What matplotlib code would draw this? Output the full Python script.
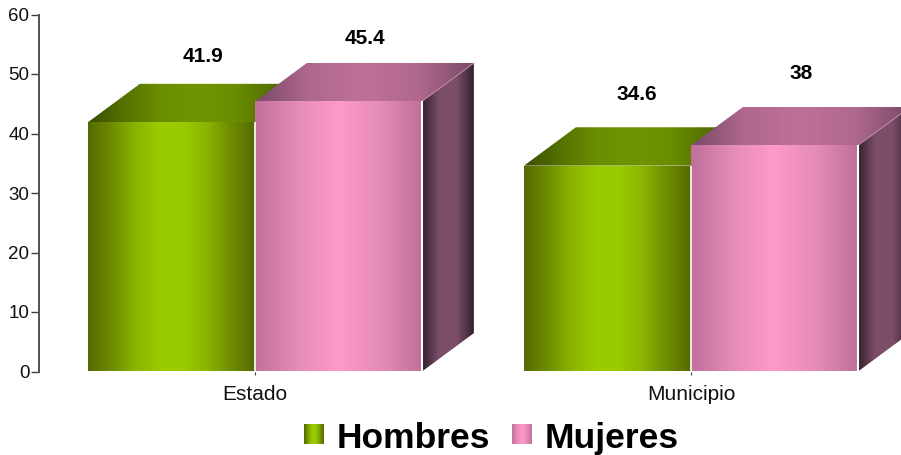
import numpy as np
import matplotlib
matplotlib.use('Agg')
import matplotlib.pyplot as plt
from matplotlib.colors import LinearSegmentedColormap
from matplotlib.patches import Polygon

plt.rcParams['font.family'] = ['Liberation Sans', 'DejaVu Sans']

categories = ['Estado', 'Municipio']
series_names = ['Hombres', 'Mujeres']
hombres = [41.9, 34.6]
mujeres = [45.4, 38]
value_labels = [['41.9', '34.6'], ['45.4', '38']]
y_ticks = [0, 10, 20, 30, 40, 50, 60]

# label offsets from the bar top centre (data units)
label_rise = [[11.1, 12.0], [10.6, 12.1]]
label_shift = [[0.072, 0.067], [0.061, 0.06]]

W, H = 901, 455
bar_w = 0.383
depth_x = 0.119
depth_y = 6.45

green_front = LinearSegmentedColormap.from_list('gf', ['#556b00', '#6f8c00', '#8ab400', '#99cc00', '#99cc00', '#8ab400', '#6f8c00', '#556b00'])
green_top = LinearSegmentedColormap.from_list('gt', ['#3a4e00', '#557200', '#6b8e00', '#709400', '#6b8e00', '#557200', '#3a4e00'])
pink_front = LinearSegmentedColormap.from_list('pf', ['#c0709a', '#e58cb8', '#ff99cc', '#e58cb8', '#c0709a'])
pink_top = LinearSegmentedColormap.from_list('pt', ['#7a4a66', '#b0688f', '#bf7099', '#b0688f', '#7a4a66'])
pink_side = LinearSegmentedColormap.from_list('ps', ['#33202c', '#7c4e69', '#7c4e69', '#33202c'])

fig = plt.figure(figsize=(W / 100, H / 100), dpi=100, facecolor='white')
ax = fig.add_axes([39 / W, 1 - 371.5 / H, (911 - 39) / W, (371.5 - 14.5) / H])
xlim = (-216 / 436, (911 - 39 - 216) / 436)


def shade(cmap, x0, x1, y0, y1, corners, z):
    # horizontal gradient clipped to the face outline
    grad = np.linspace(0, 1, 256).reshape(1, -1)
    im = ax.imshow(grad, cmap=cmap, extent=[x0, x1, y0, y1], aspect='auto',
                   zorder=z, interpolation='bilinear')
    im.set_clip_path(Polygon(corners, closed=True, transform=ax.transData))


def bar3d(left, val, front, top, side, z, neighbour=None):
    right = left + bar_w
    shade(front, left, right, 0, val,
          [(left, 0), (right, 0), (right, val), (left, val)], z)
    shade(top, left, right + depth_x, val, val + depth_y,
          [(left, val), (right, val), (right + depth_x, val + depth_y),
           (left + depth_x, val + depth_y)], z)
    if side is not None:
        shade(side, right, right + depth_x, 0, val + depth_y,
              [(right, 0), (right + depth_x, depth_y),
               (right + depth_x, val + depth_y), (right, val)], z)
        ax.plot([right, right + depth_x], [val, val + depth_y], color='#c08aa8',
                lw=0.7, zorder=z + 0.1)
        ax.plot([right, right], [0, val], color='white', lw=1.5, zorder=z + 0.1,
                solid_capstyle='butt')
        ax.plot([left, left], [0, neighbour], color='white', lw=1.2, zorder=z + 0.1,
                solid_capstyle='butt')


for i in range(len(categories)):
    bar3d(i - bar_w, hombres[i], green_front, green_top, None, 2 + i)
    bar3d(i, mujeres[i], pink_front, pink_top, pink_side, 2.5 + i, hombres[i])
    ax.text(i - bar_w / 2 + label_shift[0][i], hombres[i] + label_rise[0][i], value_labels[0][i],
            ha='center', va='center', fontsize=15, fontweight='bold', color='black', zorder=10)
    ax.text(i + bar_w / 2 + label_shift[1][i], mujeres[i] + label_rise[1][i], value_labels[1][i],
            ha='center', va='center', fontsize=15, fontweight='bold', color='black', zorder=10)

ax.set_xlim(*xlim)
ax.set_ylim(0, 60)
ax.set_yticks(y_ticks)
ax.set_xticks(range(len(categories)))
ax.set_xticklabels(categories)
ax.tick_params(axis='y', length=6, width=1, color='#404040', labelsize=13.5, pad=1, labelcolor='#111111')
ax.tick_params(axis='x', length=2, width=0.8, color='#404040', labelsize=15, pad=8, labelcolor='#111111')
for s in ['top', 'right', 'bottom']:
    ax.spines[s].set_visible(False)
ax.spines['left'].set_linewidth(1.4)
ax.spines['left'].set_color('#505050')
ax.patch.set_visible(False)

# legend
swatches = [(304, green_front), (512, pink_front)]
text_x = [337, 545]
for (sx, cmap), tx, name in zip(swatches, text_x, series_names):
    lax = fig.add_axes([sx / W, 1 - 444 / H, 20 / W, 20 / H])
    lax.imshow(np.linspace(0, 1, 64).reshape(1, -1), cmap=cmap, aspect='auto')
    lax.axis('off')
    fig.text(tx / W, 1 - 438.5 / H, name, ha='left', va='center', fontsize=25.5,
             fontweight='bold', color='black')

fig.savefig('out.png', dpi=100)
